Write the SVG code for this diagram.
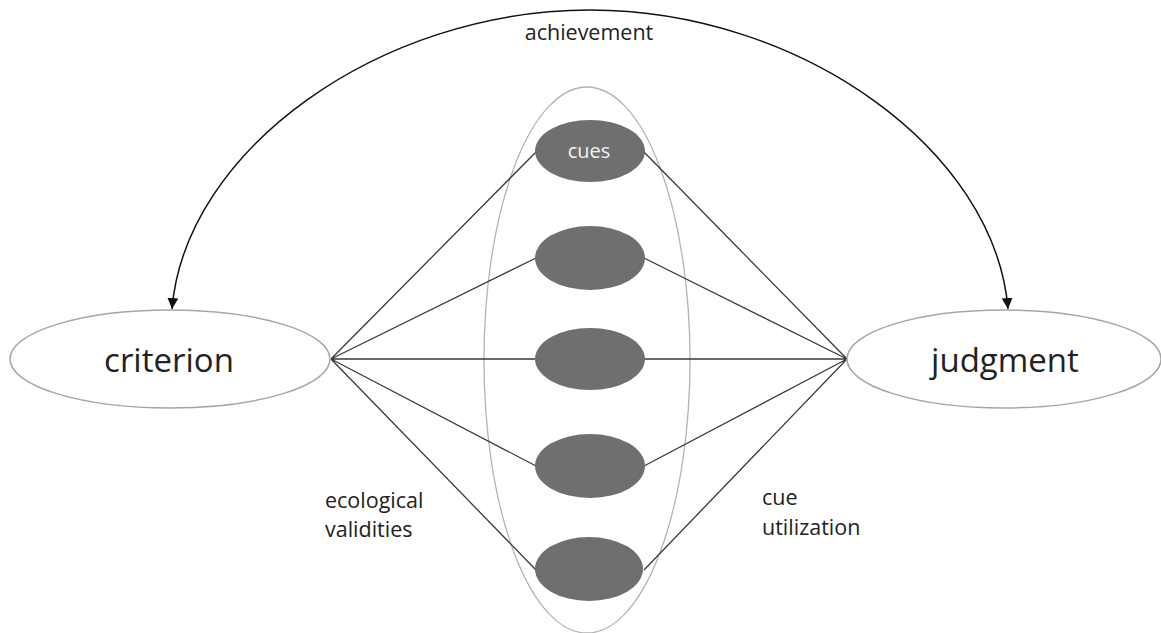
<svg xmlns="http://www.w3.org/2000/svg" width="1161" height="633" viewBox="0 0 1161 633">
<style>
.big{fill:#fff;stroke:#a6a6a6;stroke-width:1.5}
.cue{fill:#6f6f6f;stroke:none}
.ln{stroke:#3a3a3a;stroke-width:1.3;fill:none}
.t{font-family:"Open Sans","Noto Sans",sans-serif;fill:#222}
.lab{font-size:21.5px}
</style>
<defs>
<marker id="ah" viewBox="0 0 10 10" refX="10" refY="5" markerWidth="11" markerHeight="11" markerUnits="userSpaceOnUse" orient="auto-start-reverse">
<path d="M0,0 L10,5 L0,10 z" fill="#111"/>
</marker>
</defs>
<g id="cueset">
<ellipse cx="587" cy="360" rx="103" ry="273" fill="none" stroke="#b3b3b3" stroke-width="1.3"/>
</g>
<g id="connectors">
<path class="ln" d="M331,359 L536,152 M331,359 L536,258 M331,359 L535,359 M331,359 L536,466 M331,359 L536,570"/>
<path class="ln" d="M847,359 L644,152 M847,359 L644,258 M847,359 L645,359 M847,359 L644,466 M847,359 L644,570"/>
<path d="M172,309 C185,150 380,10 590,10 C800,10 995,150 1008,309" fill="none" stroke="#111" stroke-width="1.5" marker-start="url(#ah)" marker-end="url(#ah)"/>
</g>
<g id="cue1"><ellipse class="cue" cx="590" cy="151" rx="55" ry="31"/><text class="t" x="589" y="158" font-size="20" text-anchor="middle" style="fill:#f2f2f2">cues</text></g>
<g id="cue2"><ellipse class="cue" cx="590" cy="258" rx="55" ry="32"/></g>
<g id="cue3"><ellipse class="cue" cx="590" cy="359" rx="55" ry="31"/></g>
<g id="cue4"><ellipse class="cue" cx="590" cy="466" rx="55" ry="32"/></g>
<g id="cue5"><ellipse class="cue" cx="589" cy="569" rx="54" ry="32"/></g>
<g id="criterion"><ellipse class="big" cx="170" cy="359" rx="160" ry="49"/><text class="t" x="169" y="372" font-size="33" text-anchor="middle">criterion</text></g>
<g id="judgment"><ellipse class="big" cx="1004" cy="359" rx="157" ry="49"/><text class="t" x="1005" y="372" font-size="33" text-anchor="middle">judgment</text></g>
<g id="labels">
<text class="t lab" x="589" y="40" text-anchor="middle">achievement</text>
<text class="t lab" x="325" y="508">ecological</text>
<text class="t lab" x="325" y="537">validities</text>
<text class="t lab" x="762" y="505">cue</text>
<text class="t lab" x="762" y="535">utilization</text>
</g>
</svg>
